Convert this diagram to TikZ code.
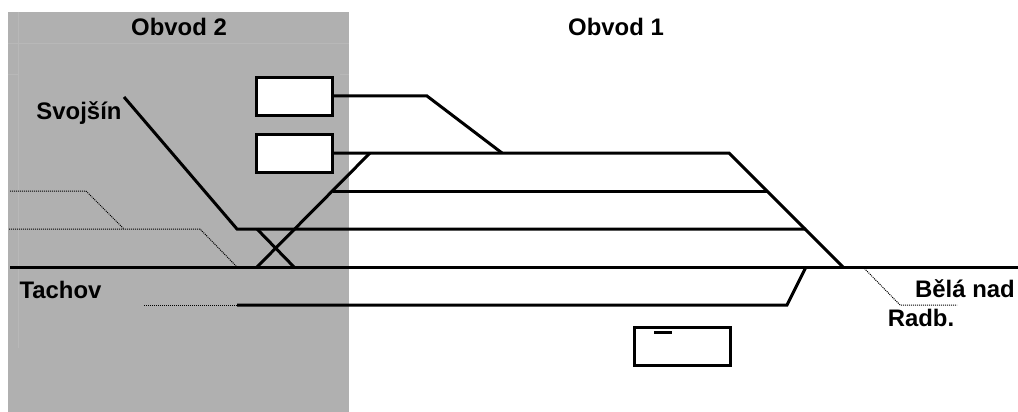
\documentclass[tikz,border=0pt]{standalone}
\usepackage{fontspec}
\setmainfont{Liberation Sans}
\tikzset{
  track/.style={draw=black,line width=3pt,line join=miter},
  thin dots/.style={draw=black,line width=1pt,dash pattern=on 1pt off 1pt},
  box/.style={draw=black,line width=3pt,fill=white,minimum width=76pt,minimum height=38pt,inner sep=0pt,outer sep=0pt,anchor=north west},
  lab/.style={font=\bfseries\fontsize{23.9pt}{26pt}\selectfont,inner sep=0pt,text=black},
  faint/.style={draw=white!72!black,line width=0.6pt}
}
\begin{document}
\begin{tikzpicture}[x=1pt,y=-1pt]
\useasboundingbox (0,0) rectangle (1018,412);
\fill[fill=black!31] (8,12) rectangle (349,412);
\draw[faint] (8,43) -- (349,43);
\draw[faint] (8,74) -- (18,74) (340,74) -- (349,74);
\draw[faint] (18,12) -- (18,348);
% boxes
\node[box] (b1) at (256.5,77.5) {};
\node[box] (b2) at (256.5,134.5) {};
\node[box,minimum width=96pt] (b3) at (634.5,327.5) {};
% coordinates
\coordinate (sv) at (124,97);
\coordinate (a1) at (237,229);
\coordinate (a2) at (806,229);
\coordinate (m0) at (10,267);
\coordinate (m1) at (1018,267);
\coordinate (u1) at (370,153);
\coordinate (u2) at (729,153);
\coordinate (u3) at (843,267);
\coordinate (t1) at (427,96);
\coordinate (t2) at (502,153);
\coordinate (c1) at (333,191);
\coordinate (c2) at (767,191);
\coordinate (d1) at (237,305);
\coordinate (d2) at (787,305);
\coordinate (d3) at (806,267);
\coordinate (x1) at (257,267);
\coordinate (x2) at (257,229);
\coordinate (x3) at (294,267);
\coordinate (k1) at (654,332);
\coordinate (k2) at (672,332);
% tracks
\draw[track] (m0) -- (m1);
\draw[track] (sv) -- (a1) -- (a2);
\draw[track] (b2.east |- u1) -- (u1) -- (u2) -- (u3);
\draw[track] (b1.east |- t1) -- (t1) -- (t2);
\draw[track] (c1) -- (c2);
\draw[track] (d1) -- (d2) -- (d3);
\draw[track] (x1) -- (u1);
\draw[track] (x2) -- (x3);
\draw[track] (k1) -- (k2);
% dotted
\draw[thin dots] (10,191) -- (86,191) -- (124,229);
\draw[thin dots] (9,229) -- (200,229) -- (237,267);
\draw[thin dots] (144,305) -- (d1);
\draw[thin dots] (863,267) -- (900,305) -- (957,305);
% labels
\node[lab] (o2) at (179,27) {Obvod 2};
\node[lab] (o1) at (616,27) {Obvod 1};
\node[lab] (s) at (79,113) {Svojšín};
\node[lab] (t) at (60.5,290) {Tachov};
\node[lab] (bn) at (965,289) {Bělá nad};
\node[lab] (r) at (921,318) {Radb.};
\end{tikzpicture}
\end{document}
